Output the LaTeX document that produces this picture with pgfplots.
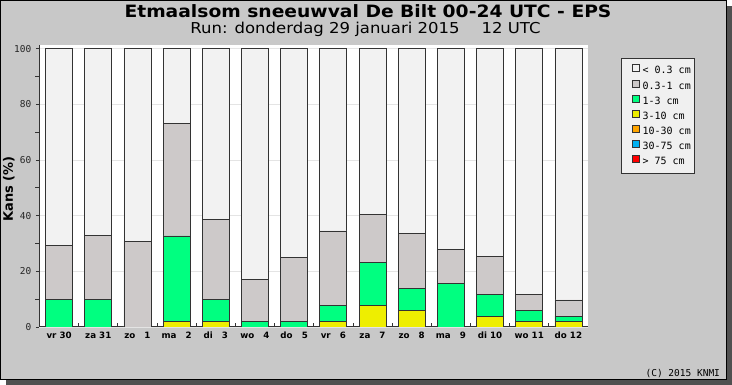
\documentclass[border=0pt]{standalone}
\usepackage{graphicx}
\usepackage{pgfplots}
\pgfplotsset{compat=1.18}
\usepackage{pgfplotstable}
\usepackage{fontspec}
\setmainfont{DejaVu Sans}
\newfontfamily\monofont{DejaVu Sans Mono}
\definecolor{panel}{HTML}{C8C8C8}
\definecolor{shadow}{HTML}{505050}
\definecolor{cwhite}{HTML}{F2F2F2}
\definecolor{cgray}{HTML}{CDC9C9}
\definecolor{cgreen}{HTML}{00FF80}
\definecolor{cyellow}{HTML}{EEEE00}
\definecolor{corange}{HTML}{FFA500}
\definecolor{cblue}{HTML}{00B0F0}
\definecolor{cred}{HTML}{FF0000}
\definecolor{edge}{HTML}{333333}
\definecolor{gridc}{HTML}{E4E4E4}
\definecolor{legbg}{HTML}{F0F0F0}

\pgfplotstableread{
x red blue orange yellow green gray white
0 0 0 0 0 9.8 19.4 70.8
1 0 0 0 0 9.8 23.0 67.2
2 0 0 0 0 0 30.7 69.3
3 0 0 0 2.0 30.7 40.3 27.0
4 0 0 0 2.0 7.8 28.9 61.3
5 0 0 0 0 2.0 15.2 82.8
6 0 0 0 0 2.0 23.1 74.9
7 0 0 0 2.0 5.6 26.9 65.5
8 0 0 0 7.6 15.5 17.3 59.6
9 0 0 0 5.8 7.9 19.8 66.5
10 0 0 0 0 15.8 11.9 72.3
11 0 0 0 3.8 7.8 13.9 74.5
12 0 0 0 2.0 3.8 5.9 88.3
13 0 0 0 2.0 1.8 5.9 90.3
}\data

\begin{document}
\begin{tikzpicture}[x=1pt,y=1pt]
\useasboundingbox (0,0) rectangle (732,385);
\fill[white] (0,0) rectangle (732,385);
\fill[shadow] (6,0) rectangle (732,379);
\filldraw[fill=panel, draw=black, line width=0.8pt] (0.4,6) rectangle (726,384.6);
\node[anchor=base, font=\bfseries\fontsize{17}{17}\selectfont] at (368,367.7) {\scalebox{1.1}[1]{Etmaalsom sneeuwval De Bilt 00-24 UTC - EPS}};
\node[anchor=base, font=\fontsize{15}{15}\selectfont] at (365.5,351) {\scalebox{1.1}[1]{Run: donderdag 29 januari 2015\hspace{20pt}12 UTC}};
\node[anchor=base east, font=\monofont\fontsize{9.5}{10}\selectfont] at (723.5,8.5) {(C) 2015 KNMI};
\begin{axis}[
  at={(39.5pt,58pt)}, anchor=south west,
  scale only axis, width=548.5pt, height=282pt,
  xmin=-0.5, xmax=13.5, ymin=0, ymax=101.3,
  ybar stacked, bar width=27pt,
  axis x line*=bottom, axis y line*=left,
  axis line style={draw=edge, line width=1pt},
  axis background/.style={fill=white},
  xtick={0,...,13},
  xticklabels={vr 30, za 31, zo \phantom{0}1, ma \phantom{0}2, di \phantom{0}3, wo \phantom{0}4, do \phantom{0}5, vr \phantom{0}6, za \phantom{0}7, zo \phantom{0}8, ma \phantom{0}9, di 10, wo 11, do 12},
  minor xtick={0.5,1.5,...,12.5},
  xtick align=inside,
  major x tick style={draw=none},
  minor x tick style={draw=edge, line width=0.8pt},
  minor tick length=4pt,
  ytick={0,20,...,100}, minor ytick={10,30,...,90},
  ytick align=outside,
  major tick length=3.5pt,
  y tick style={draw=edge, line width=0.8pt},
  ymajorgrids, major grid style={draw=gridc, line width=0.8pt},
  /pgf/number format/assume math mode=true,
  yticklabel style={font=\monofont\fontsize{9.5}{10}\selectfont, text=black!85, anchor=east, inner sep=0pt, xshift=-4.5pt},
  xticklabel style={font=\bfseries\fontsize{8.7}{10}\selectfont, anchor=north, inner sep=0pt, text height=6.5pt, text depth=0pt, yshift=-4.7pt},
  ylabel={Kans (\%)},
  every axis y label/.style={at={(axis description cs:-0.0561,0.489)}, rotate=90, anchor=center, font=\bfseries\fontsize{13}{13}\selectfont},
  reverse legend,
  legend image code/.code={\path (-6pt,0pt); \draw[#1, draw=edge, line width=0.7pt] (0pt,-0.3pt) rectangle (7pt,6.7pt);},
  legend style={at={(axis description cs:1.061,0.954)}, anchor=north west, fill=legbg, draw=edge, line width=0.8pt, inner xsep=4pt, inner ysep=6pt, row sep=3.1pt, font=\monofont\fontsize{10}{10}\selectfont, nodes={inner sep=0pt, text height=7.5pt, text depth=2.5pt}, /tikz/every odd column/.append style={column sep=3pt}},
  legend cell align=left,
]
\addplot[fill=cred, draw=edge, line width=0.8pt] table[x=x,y=red]{\data};
\addlegendentry{> 75 cm}
\addplot[fill=cblue, draw=edge, line width=0.8pt] table[x=x,y=blue]{\data};
\addlegendentry{30-75 cm}
\addplot[fill=corange, draw=edge, line width=0.8pt] table[x=x,y=orange]{\data};
\addlegendentry{10-30 cm}
\addplot[fill=cyellow, draw=edge, line width=0.8pt] table[x=x,y=yellow]{\data};
\addlegendentry{3-10 cm}
\addplot[fill=cgreen, draw=edge, line width=0.8pt] table[x=x,y=green]{\data};
\addlegendentry{1-3 cm}
\addplot[fill=cgray, draw=edge, line width=0.8pt] table[x=x,y=gray]{\data};
\addlegendentry{0.3-1 cm}
\addplot[fill=cwhite, draw=edge, line width=0.8pt] table[x=x,y=white]{\data};
\addlegendentry{< 0.3 cm}
\end{axis}
\end{tikzpicture}
\end{document}
